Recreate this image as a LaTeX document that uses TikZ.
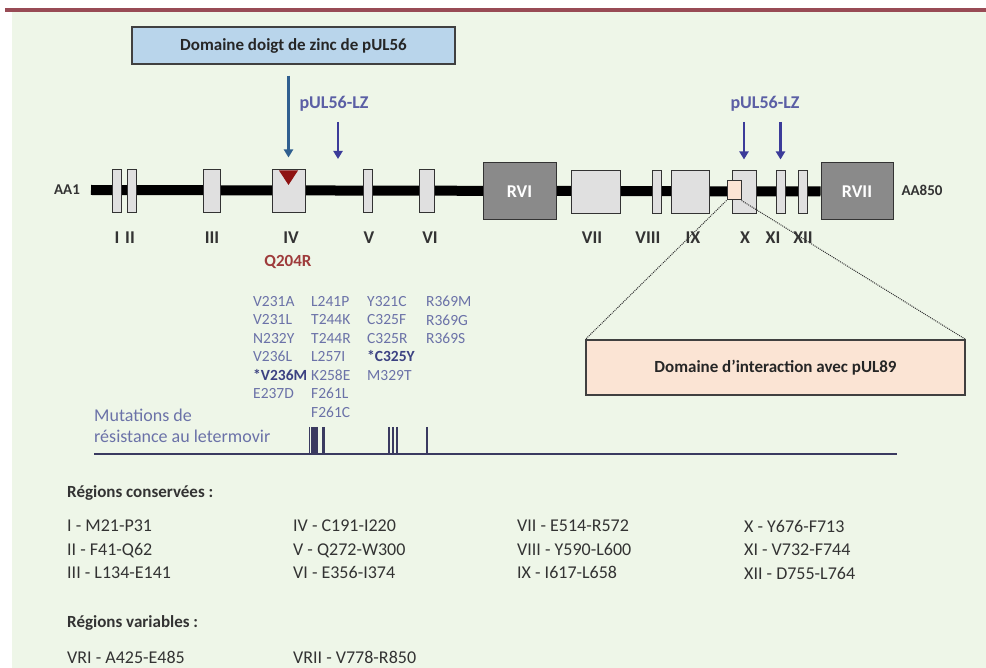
\documentclass[tikz,border=0pt]{standalone}
\usepackage{fontspec}
\setmainfont{Carlito}
\usetikzlibrary{arrows.meta, positioning}

\definecolor{topred}{HTML}{984B55}
\definecolor{bggreen}{HTML}{EEF6E8}
\definecolor{zincblue}{HTML}{B9D5EB}
\definecolor{peach}{HTML}{FBE4D4}
\definecolor{segray}{HTML}{E0E0E0}
\definecolor{rvgray}{HTML}{8A8A8A}
\definecolor{zincarrow}{HTML}{2F5F8F}
\definecolor{lzarrow}{HTML}{3B3B99}
\definecolor{lztext}{HTML}{5B5FA5}
\definecolor{mutred}{HTML}{9E3B3B}
\definecolor{tridark}{HTML}{8E1212}
\definecolor{mutblue}{HTML}{6B72A8}
\definecolor{mutdark}{HTML}{3C4282}
\definecolor{tickcol}{HTML}{3A3A60}
\definecolor{listgray}{HTML}{333333}

\begin{document}
\begin{tikzpicture}[x=1pt, y=-1pt,
    segment/.style={draw=black!80, line width=1pt, fill=#1, inner sep=0pt},
    domainbox/.style={draw=black!75, line width=1.2pt, fill=#1, inner sep=0pt,
        font=\fontsize{17}{20}\selectfont\bfseries, text=black!85},
    roman/.style={font=\fontsize{18}{20}\selectfont\bfseries, text=listgray, inner sep=0pt},
    endlabel/.style={font=\fontsize{15}{17}\selectfont\bfseries, text=listgray, inner sep=0pt},
    rvlabel/.style={font=\fontsize{18}{20}\selectfont\bfseries, text=white},
    lzlabel/.style={font=\fontsize{18}{20}\selectfont\bfseries, text=lztext, inner sep=0pt},
    arrow/.style={-{Triangle[length=8pt, width=9pt]}, line width=2.2pt},
    mutcol/.style={anchor=north west, align=left, inner sep=0pt, text=mutblue,
        font=\fontsize{15.5}{18.5}\selectfont},
    listcol/.style={anchor=north west, align=left, inner sep=0pt, text=listgray,
        font=\fontsize{18}{23.5}\selectfont},
    heading/.style={anchor=west, inner sep=0pt, text=listgray,
        font=\fontsize{17}{19}\selectfont\bfseries}
]
\useasboundingbox (0,0) rectangle (986,668);

% Fond
\fill[bggreen] (12,12) rectangle (986,668);
\fill[topred] (5,8) rectangle (986,12.5);

% Chaine pUL56
\node[endlabel] (aa1) at (67,190) {AA1};
\coordinate (barstart) at (91,190);
\node[segment=rvgray, minimum width=72pt, minimum height=57pt] (rvii) at (857,191.5) {};
\draw[line width=10pt] (barstart) -- (rvii.west);
\node[rvlabel] at (rvii) {RVII};
\node[endlabel] (aa850) at (922,190) {AA850};

\node[segment=segray, minimum width=9pt, minimum height=43pt] (i) at (116.5,191.5) {};
\node[segment=segray, minimum width=9pt, minimum height=43pt] (ii) at (131.5,191.5) {};
\node[segment=segray, minimum width=17pt, minimum height=43pt] (iii) at (211.5,191.5) {};
\node[segment=segray, minimum width=33pt, minimum height=43pt] (iv) at (288.5,191.5) {};
\node[segment=segray, minimum width=9pt, minimum height=43pt] (v) at (367.5,191.5) {};
\node[segment=segray, minimum width=15pt, minimum height=43pt] (vi) at (426.5,191.5) {};
\node[segment=rvgray, minimum width=73pt, minimum height=57pt] (rvi) at (519.5,191.5) {};
\node[rvlabel] at (rvi) {RVI};
\node[segment=segray, minimum width=49pt, minimum height=43pt] (vii) at (595.5,192.5) {};
\node[segment=segray, minimum width=9pt, minimum height=43pt] (viii) at (656.5,192.5) {};
\node[segment=segray, minimum width=38pt, minimum height=43pt] (ix) at (690,192.5) {};
\node[segment=segray, minimum width=24pt, minimum height=43pt] (x) at (744,192.5) {};
\node[segment=segray, minimum width=9pt, minimum height=43pt] (xi) at (780.5,192.5) {};
\node[segment=segray, minimum width=9pt, minimum height=43pt] (xii) at (802.5,192.5) {};
\node[segment=peach, minimum width=14pt, minimum height=19pt] (site89) at (734,190.5) {};

% Triangle Q204R
\fill[tridark] (iv.north) ++(-9.5,1) -- ++(19,0) -- (288.5,185) -- cycle;

% Noms des regions
\node[roman] (li) at (117,238) {I};
\node[roman] (lii) at (130,238) {II};
\node[roman] (liii) at (212,238) {III};
\node[roman] (liv) at (291,238) {IV};
\node[roman] (lv) at (369,238) {V};
\node[roman] (lvi) at (430,238) {VI};
\node[roman] (lvii) at (592,238) {VII};
\node[roman] (lviii) at (648,238) {VIII};
\node[roman] (lix) at (693,238) {IX};
\node[roman] (lx) at (745,238) {X};
\node[roman] (lxi) at (773,238) {XI};
\node[roman] (lxii) at (803,238) {XII};
\node[roman, text=mutred, font=\fontsize{17}{19}\selectfont\bfseries] (q204r) at (288,262) {Q204R};

% Domaines
\node[domainbox=zincblue, minimum width=323pt, minimum height=37pt] (zinc) at (293.5,45.5) {Domaine doigt de zinc de pUL56};
\node[domainbox=peach, minimum width=379pt, minimum height=55pt] (inter) at (775.5,367.5) {Domaine d’interaction avec pUL89};

\node[lzlabel] (lz1) at (334,104) {pUL56-LZ};
\node[lzlabel] (lz2) at (765,104) {pUL56-LZ};
\coordinate (lzsite) at (338,159);

% Fleches
\draw[arrow, zincarrow, shorten <=11pt, shorten >=12pt] (iv.north |- zinc.south) -- (iv.north);
\draw[arrow, lzarrow, shorten <=10pt] (lz1.south -| lzsite) -- (lzsite);
\draw[arrow, lzarrow, shorten <=10pt, shorten >=11pt] (x.north |- lz2.south) -- (x.north);
\draw[arrow, lzarrow, shorten <=10pt, shorten >=11pt] (xi.north |- lz2.south) -- (xi.north);

\draw[densely dotted, line width=1pt, black!80] (site89.south west) -- (inter.north west);
\draw[densely dotted, line width=1pt, black!80] (site89.south east) -- (inter.north east);

% Mutations de resistance
\node[mutcol] (mut1) at (253,296) {V231A\\V231L\\N232Y\\V236L\\\textcolor{mutdark}{\bfseries *V236M}\\E237D};
\node[mutcol] (mut2) at (311,296) {L241P\\T244K\\T244R\\L257I\\K258E\\F261L\\F261C};
\node[mutcol] (mut3) at (367,296) {Y321C\\C325F\\C325R\\\textcolor{mutdark}{\bfseries *C325Y}\\M329T};
\node[mutcol] (mut4) at (426,296) {R369M\\R369G\\R369S};

\node[anchor=north west, align=left, inner sep=0pt, text=mutblue, font=\fontsize{18}{21}\selectfont] (mutlabel) at (94,409) {Mutations de\\résistance au letermovir};

\coordinate (axstart) at (94,454);
\coordinate (axend) at (897,454);
\draw[tickcol, line width=1.3pt] (axstart) -- (axend);
\foreach \t in {309.5,311.5,313,314.5,316,317.5,323,324.5,389,393,397,427}
  \draw[tickcol, line width=1.1pt] (\t,427) -- (\t,454);

% Regions conservees
\node[heading] (hcons) at (67,493) {Régions conservées :};
\node[listcol] (cons1) at (67,520) {I - M21-P31\\II - F41-Q62\\III - L134-E141};
\node[listcol] (cons2) at (293,520) {IV - C191-I220\\V - Q272-W300\\VI - E356-I374};
\node[listcol] (cons3) at (517,520) {VII - E514-R572\\VIII - Y590-L600\\IX - I617-L658};
\node[listcol] (cons4) at (744,520) {X - Y676-F713\\XI - V732-F744\\XII - D755-L764};

% Regions variables
\node[heading] (hvar) at (67,623) {Régions variables :};
\node[listcol] (var1) at (67,651) {VRI - A425-E485};
\node[listcol] (var2) at (293,651) {VRII - V778-R850};

\end{tikzpicture}
\end{document}
